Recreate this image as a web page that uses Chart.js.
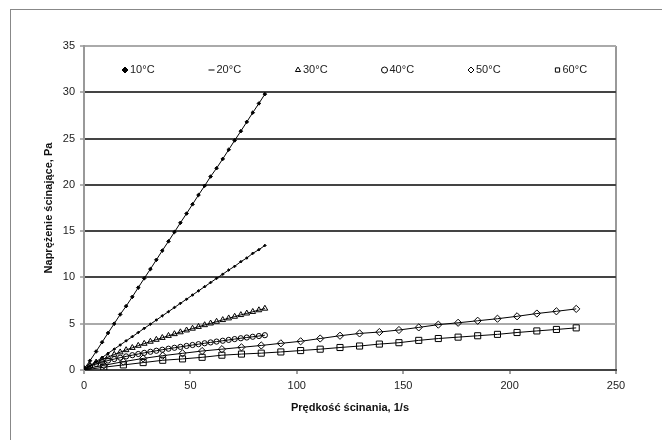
<!DOCTYPE html>
<html>
<head>
<meta charset="utf-8">
<script src="https://cdn.jsdelivr.net/npm/chart.js@4.4.0/dist/chart.umd.min.js"></script>
<style>
body { margin: 0; background: #fff; overflow: hidden; }
#wrap { position: relative; width: 662px; height: 440px; }
#frame { position: absolute; left: 10px; top: 9px; width: 700px; height: 500px; border: 1px solid #888; }
canvas { position: absolute; left: 0; top: 0; }
</style>
</head>
<body>
<div id="wrap"><div id="frame"></div><canvas id="myChart" width="662" height="440"></canvas></div>
<script>
var seriesLabels = ['10°C', '20°C', '30°C', '40°C', '50°C', '60°C'];

// shear rate, 1/s (10-40°C measured up to ~85, 50-60°C up to ~231)
var rateLow = [0, 2.8, 5.7, 8.5, 11.3, 14.2, 17, 19.8, 22.7, 25.5, 28.3, 31.2, 34, 36.8, 39.7, 42.5,
               45.3, 48.2, 51, 53.8, 56.7, 59.5, 62.3, 65.2, 68, 70.8, 73.7, 76.5, 79.3, 82.2, 85];
var rateHigh = [0, 9.3, 18.5, 27.8, 37, 46.3, 55.5, 64.8, 74, 83.3, 92.5, 101.8, 111, 120.3, 129.5,
                138.8, 148, 157.3, 166.5, 175.8, 185, 194.3, 203.5, 212.8, 222, 231.3];

// shear stress, Pa
var stress10 = [0.1, 1.0, 2.0, 3.0, 4.0, 5.0, 6.0, 6.9, 7.9, 8.9, 9.9, 10.9, 11.9, 12.9, 13.9, 14.9,
                15.9, 16.9, 17.9, 18.9, 19.9, 20.9, 21.8, 22.8, 23.8, 24.8, 25.8, 26.8, 27.8, 28.8, 29.8];
var stress20 = [0.05, 0.45, 0.9, 1.35, 1.8, 2.25, 2.7, 3.15, 3.6, 4.05, 4.5, 4.95, 5.4, 5.85, 6.3, 6.75,
                7.2, 7.65, 8.1, 8.55, 9.0, 9.45, 9.9, 10.35, 10.8, 11.2, 11.7, 12.1, 12.6, 13.0, 13.45];
var stress30 = [0.05, 0.48, 0.83, 1.13, 1.4, 1.67, 1.92, 2.16, 2.4, 2.63, 2.85, 3.07, 3.28, 3.48, 3.7, 3.89,
                4.09, 4.29, 4.48, 4.67, 4.86, 5.04, 5.23, 5.41, 5.59, 5.77, 5.95, 6.12, 6.29, 6.47, 6.64];
var stress40 = [0.05, 0.41, 0.66, 0.85, 1.02, 1.18, 1.33, 1.47, 1.6, 1.73, 1.85, 1.97, 2.08, 2.19, 2.3, 2.4,
                2.5, 2.6, 2.7, 2.79, 2.89, 2.98, 3.07, 3.16, 3.25, 3.34, 3.43, 3.51, 3.59, 3.67, 3.76];
var stress50 = [0.1, 0.5, 0.9, 1.25, 1.55, 1.8, 2.05, 2.25, 2.45, 2.65, 2.88, 3.1, 3.4, 3.7, 3.95,
                4.1, 4.32, 4.6, 4.9, 5.1, 5.32, 5.54, 5.8, 6.1, 6.34, 6.6];
var stress60 = [0, 0.3, 0.55, 0.8, 1.05, 1.2, 1.37, 1.6, 1.72, 1.82, 1.95, 2.1, 2.25, 2.43, 2.59,
                2.8, 2.95, 3.2, 3.4, 3.55, 3.7, 3.85, 4.05, 4.22, 4.38, 4.55];

var xTicks = [0, 50, 100, 150, 200, 250];
var yTicks = [0, 5, 10, 15, 20, 25, 30, 35];

var FONT = '"Liberation Sans", Arial, sans-serif';

function pts(xs, ys) {
  return ys.map(function(v, i) { return { x: xs[i], y: v }; });
}

function series(i, xs, ys, style, radius, fill, legendStyle) {
  return {
    label: seriesLabels[i],
    data: pts(xs, ys),
    borderColor: '#000',
    borderWidth: 1,
    pointStyle: style,
    legendStyle: legendStyle || style,
    pointRadius: radius,
    pointBorderColor: '#000',
    pointBorderWidth: 1,
    pointBackgroundColor: fill,
    tension: 0
  };
}

// legend drawn inside the plot area, spread over one row like the original
var insideLegend = {
  id: 'insideLegend',
  afterDraw: function(chart) {
    var ctx = chart.ctx, area = chart.chartArea;
    var drawPoint = Chart.helpers && Chart.helpers.drawPoint;
    ctx.save();
    ctx.font = '11px ' + FONT;
    ctx.textBaseline = 'middle';
    chart.data.datasets.forEach(function(ds, i) {
      var x = area.left + 41 + i * 86.5;
      var y = area.top + 24;
      ctx.strokeStyle = '#000';
      ctx.fillStyle = ds.pointBackgroundColor;
      ctx.lineWidth = 1;
      if (drawPoint) {
        drawPoint(ctx, { pointStyle: ds.legendStyle, radius: 3, borderWidth: 1, rotation: 0 }, x, y);
      } else {
        ctx.strokeRect(x - 2, y - 2, 4, 4);
      }
      ctx.fillStyle = '#222';
      ctx.fillText(ds.label, x + 5, y);
    });
    ctx.restore();
  }
};

var ctx = document.getElementById('myChart').getContext('2d');
var myChart = new Chart(ctx, {
  type: 'scatter',
  data: {
    datasets: [
      series(0, rateLow, stress10, 'rectRot', 1.8, '#000'),
      series(1, rateLow, stress20, 'rectRot', 1.3, '#000', 'line'),
      series(2, rateLow, stress30, 'triangle', 3.3, 'rgba(0,0,0,0)'),
      series(3, rateLow, stress40, 'circle', 2.6, 'rgba(0,0,0,0)'),
      series(4, rateHigh, stress50, 'rectRot', 3.6, 'rgba(0,0,0,0)'),
      series(5, rateHigh, stress60, 'rect', 4.3, 'rgba(0,0,0,0)')
    ].map(function(d) { d.showLine = true; return d; })
  },
  options: {
    responsive: false,
    animation: false,
    layout: { padding: { left: 0, right: 46, top: 46, bottom: 20 } },
    plugins: {
      legend: { display: false },
      tooltip: { enabled: false }
    },
    scales: {
      x: {
        type: 'linear',
        min: 0,
        max: 250,
        afterFit: function(scale) { scale.height = 50; },
        afterBuildTicks: function(axis) { axis.ticks = xTicks.map(function(v) { return { value: v }; }); },
        ticks: { color: '#222', font: { family: FONT, size: 11 }, padding: 5, maxRotation: 0 },
        grid: {
          drawOnChartArea: true,
          color: function(c) { return c.tick && c.tick.value === 250 ? '#999' : 'rgba(0,0,0,0)'; },
          lineWidth: 2,
          tickColor: '#444',
          tickLength: 4,
          tickWidth: 1
        },
        border: { color: '#444', width: 2 },
        title: {
          display: true,
          text: 'Prędkość ścinania, 1/s',
          color: '#111',
          font: { family: FONT, size: 11, weight: 'bold' },
          padding: { top: 0, bottom: 5 }
        }
      },
      y: {
        min: 0,
        max: 35,
        afterFit: function(scale) { scale.width = 84; },
        afterBuildTicks: function(axis) { axis.ticks = yTicks.map(function(v) { return { value: v }; }); },
        ticks: { color: '#222', font: { family: FONT, size: 11 }, padding: 5 },
        grid: {
          color: function(c) {
            var v = c.tick && c.tick.value;
            return (v === 5 || v === 35) ? '#aaa' : '#444';
          },
          lineWidth: 2,
          tickColor: '#666',
          tickLength: 4,
          tickWidth: 1
        },
        border: { color: '#999', width: 2 },
        title: {
          display: true,
          text: 'Naprężenie ścinające, Pa',
          color: '#111',
          font: { family: FONT, size: 11, weight: 'bold' },
          padding: { top: 42, bottom: 0 }
        }
      }
    }
  },
  plugins: [insideLegend]
});
</script>
</body>
</html>
